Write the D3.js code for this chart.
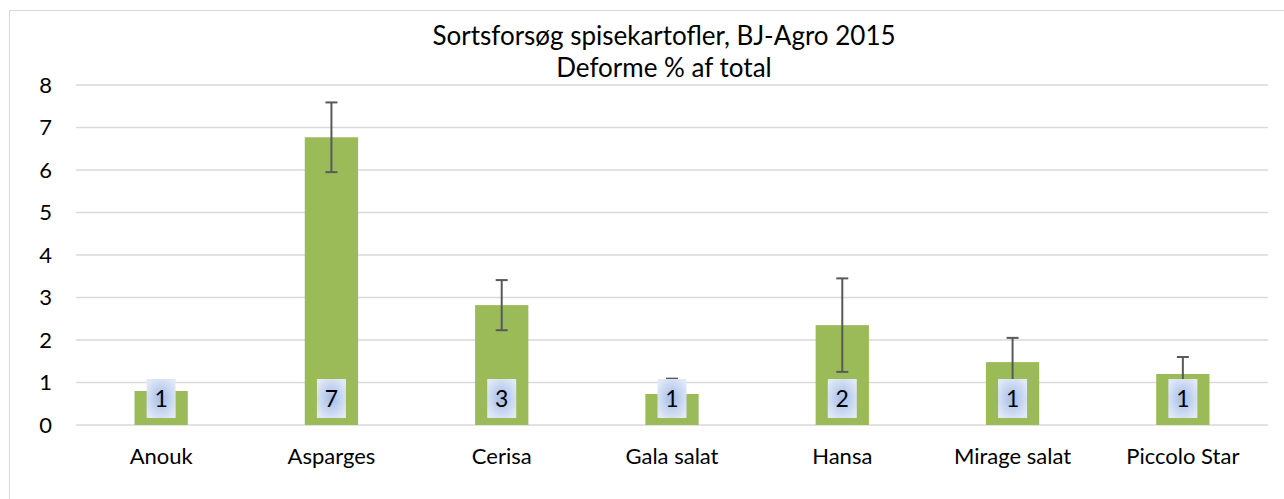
<!DOCTYPE html>
<html>
<head>
<meta charset="utf-8">
<script src="https://cdn.jsdelivr.net/npm/d3@7"></script>
<style>
  body { margin: 0; background: #fff; }
  svg { display: block; font-family: Lato, "Open Sans", sans-serif; }
</style>
</head>
<body>
<svg width="1284" height="499"></svg>
<script>
// Chart data
const categories = ["Anouk", "Asparges", "Cerisa", "Gala salat", "Hansa", "Mirage salat", "Piccolo Star"];
const values = [0.8, 6.77, 2.82, 0.73, 2.35, 1.48, 1.2];
const errors = [0.2, 0.82, 0.59, 0.36, 1.1, 0.57, 0.4];
const yTicks = [0, 1, 2, 3, 4, 5, 6, 7, 8];
const titleLines = ["Sortsforsøg spisekartofler, BJ-Agro 2015", "Deforme % af total"];

const data = categories.map((c, i) => ({ cat: c, value: values[i], err: errors[i] }));

// Plot area
const margin = { top: 85, left: 76 },
      width = 1268 - 76,
      height = 425 - 85;

const svg = d3.select("svg");

// Chart border
svg.append("rect")
    .attr("x", 9.5).attr("y", 10.5)
    .attr("width", 1400).attr("height", 600)
    .attr("fill", "#fff")
    .attr("stroke", "#d9d9d9");

// Gradient for the data label boxes
const grad = svg.append("defs").append("radialGradient")
    .attr("id", "lblGrad")
    .attr("cx", "50%").attr("cy", "50%").attr("r", "60%");
grad.append("stop").attr("offset", "0%").attr("stop-color", "#a4bde9");
grad.append("stop").attr("offset", "100%").attr("stop-color", "#e2e9f6");

// Title
svg.append("text")
    .attr("x", 664).attr("y", 45)
    .attr("text-anchor", "middle")
    .style("font-size", "26px")
    .attr("fill", "#000")
    .selectAll("tspan")
    .data(titleLines)
    .enter().append("tspan")
    .attr("x", 664)
    .attr("dy", (d, i) => i === 0 ? 0 : 32)
    .text(d => d);

const g = svg.append("g")
    .attr("transform", `translate(${margin.left},${margin.top})`);

// Scales
const x = d3.scaleBand()
    .domain(categories)
    .range([0, width])
    .paddingInner(0.687)
    .paddingOuter(0.3435);

const y = d3.scaleLinear()
    .domain([0, 8])
    .range([height, 0]);

// Gridlines
g.selectAll(".grid")
    .data(yTicks)
    .enter().append("line")
    .attr("x1", 0).attr("x2", width)
    .attr("y1", d => y(d)).attr("y2", d => y(d))
    .attr("stroke", "#d9d9d9")
    .attr("stroke-width", 1.5);

// Y axis
const yAxis = g.append("g")
    .call(d3.axisLeft(y).tickValues(yTicks).tickSize(0).tickPadding(24));
yAxis.select(".domain").remove();
yAxis.selectAll("text")
    .style("font-size", "22px")
    .style("font-family", "Lato, 'Open Sans', sans-serif")
    .attr("fill", "#000");

// X axis labels
const xAxis = g.append("g")
    .attr("transform", `translate(0,${height})`)
    .call(d3.axisBottom(x).tickSize(0).tickPadding(23));
xAxis.select(".domain").remove();
xAxis.selectAll("text")
    .style("font-size", "22px")
    .style("font-family", "Lato, 'Open Sans', sans-serif")
    .attr("fill", "#000");

// Bars
g.selectAll(".bar")
    .data(data)
    .enter().append("rect")
    .attr("class", "bar")
    .attr("x", d => x(d.cat))
    .attr("width", x.bandwidth())
    .attr("y", d => y(d.value))
    .attr("height", d => height - y(d.value))
    .attr("fill", "#9bbb59");

// Error bars
const eb = g.selectAll(".err")
    .data(data)
    .enter().append("g")
    .attr("class", "err")
    .attr("stroke", "#595959")
    .attr("stroke-width", 2);

eb.append("line")
    .attr("x1", d => x(d.cat) + x.bandwidth() / 2)
    .attr("x2", d => x(d.cat) + x.bandwidth() / 2)
    .attr("y1", d => y(d.value + d.err))
    .attr("y2", d => y(Math.max(0, d.value - d.err)));

eb.selectAll(".cap")
    .data(d => [d.value + d.err, d.value - d.err].map(v => ({ cat: d.cat, v })))
    .enter().append("line")
    .attr("x1", d => x(d.cat) + x.bandwidth() / 2 - 6)
    .attr("x2", d => x(d.cat) + x.bandwidth() / 2 + 6)
    .attr("y1", d => y(d.v))
    .attr("y2", d => y(d.v));

// Data labels (rounded values) at bar base
const lbl = g.selectAll(".lbl")
    .data(data)
    .enter().append("g")
    .attr("class", "lbl")
    .attr("transform", d => `translate(${x(d.cat) + x.bandwidth() / 2},${height - 26})`);

lbl.append("rect")
    .attr("x", -14.5).attr("y", -20)
    .attr("width", 29).attr("height", 39)
    .attr("fill", "url(#lblGrad)");

lbl.append("text")
    .attr("text-anchor", "middle")
    .attr("dy", "0.35em")
    .style("font-size", "23px")
    .attr("fill", "#000")
    .text(d => Math.round(d.value));
</script>
</body>
</html>
